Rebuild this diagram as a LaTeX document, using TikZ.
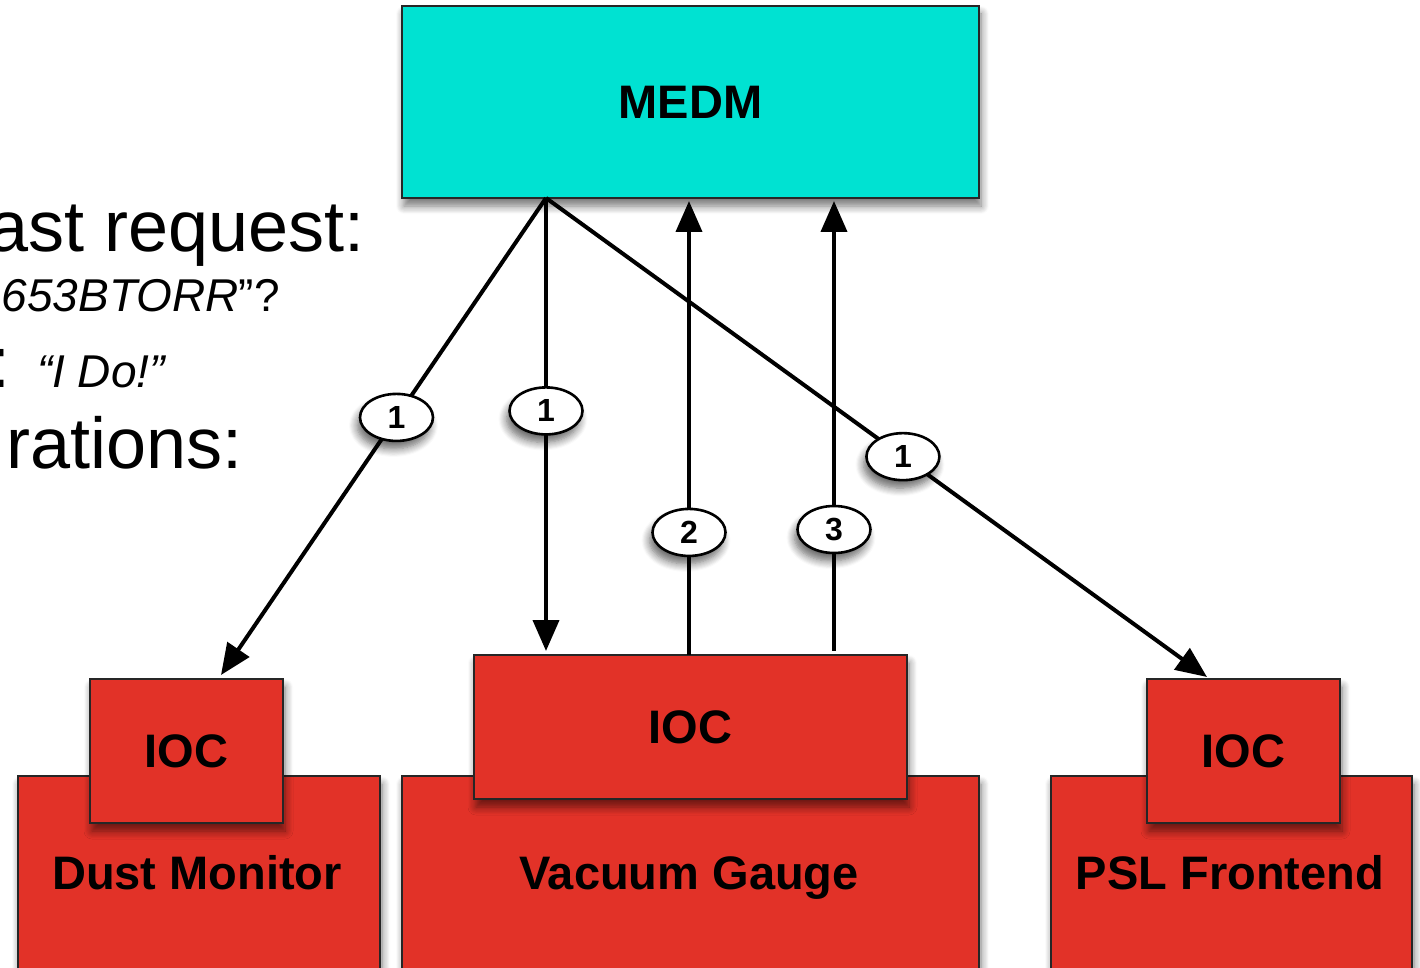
\documentclass[tikz,border=0pt]{standalone}
\usepackage{fontspec}
\setmainfont{Liberation Sans}
\usetikzlibrary{shapes.geometric,arrows.meta,shadows.blur}

\definecolor{medmcyan}{RGB}{0,226,210}
\definecolor{iocred}{RGB}{226,50,40}

\newcommand{\devfont}{\fontsize{23.5}{28}\selectfont\bfseries}
\newcommand{\slidebig}{\fontsize{36}{43}\selectfont}
\newcommand{\slidesmall}{\fontsize{23}{28}\selectfont}

\tikzset{
  unitbox/.style={draw=black!85, line width=1.2pt, inner sep=0pt, font=\devfont,
    blur shadow={shadow xshift=1pt, shadow yshift=-4pt, shadow blur radius=4pt,
      shadow blur steps=8, shadow opacity=55}},
  medmbox/.style={unitbox, fill=medmcyan},
  iocbox/.style={unitbox, fill=iocred, minimum height=72pt},
  basebox/.style={unitbox, fill=iocred, minimum height=110pt, anchor=north},
  devlabel/.style={inner sep=0pt, font=\devfont, anchor=base},
  msg/.style={line width=2pt, -{Triangle[length=15.5pt,width=13pt]}},
  seq/.style={ellipse, draw, line width=1.3pt, fill=white, inner sep=0pt,
    minimum width=36.5pt, minimum height=23.5pt, font=\fontsize{16}{18}\selectfont\bfseries,
    blur shadow={shadow xshift=-1.5pt, shadow yshift=-4pt, shadow blur radius=4pt,
      shadow blur steps=8, shadow opacity=60}},
  slide/.style={inner sep=0pt, anchor=base east}
}

\begin{document}
\begin{tikzpicture}[x=0.5pt,y=-0.5pt]

\clip (0,0) rectangle (1420,968);

% slide text behind the diagram
\node[slide, font=\slidebig] (req) at (365,252) {ast request:};
\node[slide, font=\slidesmall] (pv) at (280,312) {\itshape 653BTORR\upshape”?};
\node[slide, anchor=base west] (resp) at (-10,387) {\slidebig : \slidesmall\itshape “I Do!”};
\node[slide, font=\slidebig] (ops) at (243,468) {rations:};

% devices with their IOCs
\foreach \dev/\bx/\bw/\ix/\iw/\iy/\tx/\txt in {%
    dust/199/181/186.5/96.5/751/197/Dust Monitor,
    vac/690.5/288.5/690.5/216.5/727/689/Vacuum Gauge,
    psl/1231.5/180.5/1243.5/96.5/751/1230/PSL Frontend}{
  \node[basebox, minimum width=\bw pt] (\dev-base) at (\bx,775) {};
  \node[iocbox, minimum width=\iw pt] (\dev-ioc) at (\ix,\iy) {IOC};
  \node[devlabel] (\dev-label) at (\tx,889) {\txt};
}

% display
\node[medmbox, minimum width=288.5pt, minimum height=96pt] (medm) at (690.5,102) {MEDM};

% connector ends
\coordinate (medm-out) at (546,198);
\coordinate (dust-in) at (221,675);
\coordinate (vac-in) at (546,651);
\coordinate (vac-up) at (689,655);
\coordinate (medm-in) at (689,201);
\coordinate (medm-io) at (834,201);
\coordinate (vac-io) at (834,651);
\coordinate (psl-in) at (1207,677);

% messages
\draw[msg] (medm-out) -- node[seq, pos=0.46] (s1a) {1} (dust-in);
\draw[msg] (medm-out) -- node[seq, pos=0.47] (s1b) {1} (vac-in);
\draw[msg] (medm-out) -- node[seq, pos=0.54] (s1c) {1} (psl-in);
\draw[msg] (vac-up) -- node[seq, pos=0.27] (s2) {2} (medm-in);
\draw[msg, {Triangle[length=15.5pt,width=13pt]}-] (medm-io) -- node[seq, pos=0.73] (s3) {3} (vac-io);

\end{tikzpicture}
\end{document}
